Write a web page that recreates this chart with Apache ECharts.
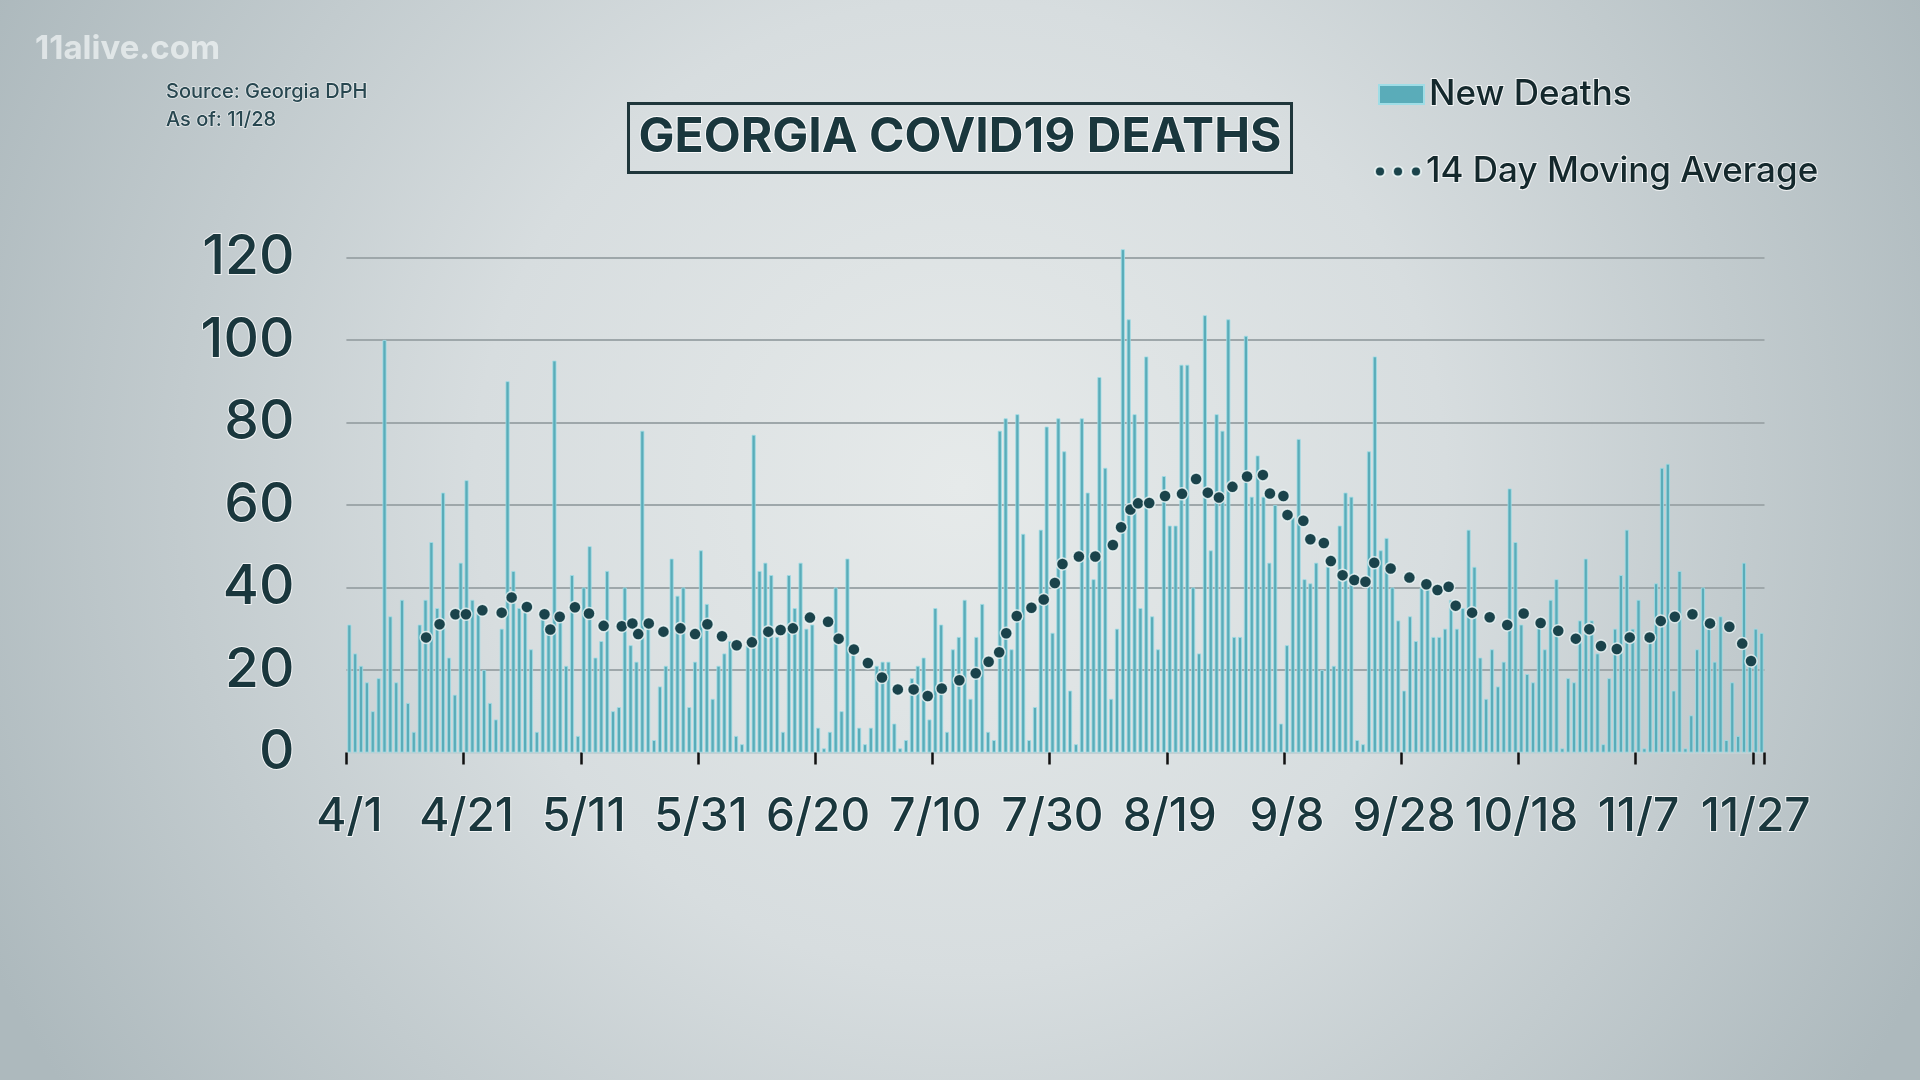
<!DOCTYPE html>
<html>
<head>
<meta charset="utf-8">
<script src="https://cdn.jsdelivr.net/npm/echarts@6/dist/echarts.min.js"></script>
<style>
html,body{margin:0;padding:0;width:1920px;height:1080px;overflow:hidden;background:#cfd6d8}
#chart{width:1920px;height:1080px}
</style>
</head>
<body>
<div id="chart"></div>
<script>
// ---- data ----
const firstDay = { year: 2020, month: 4, day: 1 };   // 4/1
const dayCount = 242;                                 // 4/1 .. 11/28
const xTickLabels = ['4/1','4/21','5/11','5/31','6/20','7/10','7/30','8/19','9/8','9/28','10/18','11/7','11/27'];
const yTicks = [0, 20, 40, 60, 80, 100, 120];

const newDeaths = [
  31,24,21,17,10,18,100,33,17,37,12,5,31,37,51,35,63,23,14,46,66,37,35,20,
  12,8,30,90,44,35,36,25,5,34,29,95,32,21,43,4,40,50,23,27,44,10,11,40,
  26,22,78,31,3,16,21,47,38,40,11,22,49,36,13,21,24,27,4,2,26,77,44,46,43,
  28,5,43,35,46,30,31,6,1,5,40,10,47,25,6,2,6,21,22,22,7,1,3,18,
  21,23,8,35,31,5,25,28,37,13,28,36,5,3,78,81,25,82,53,3,11,54,79,29,
  81,73,15,2,81,63,42,91,69,13,30,122,105,82,35,96,33,25,67,55,55,94,94,40,24,
  106,49,82,78,105,28,28,101,62,72,62,46,60,7,26,57,76,42,41,46,20,45,21,55,
  63,62,3,2,73,96,49,52,40,32,15,33,27,40,42,28,28,30,37,30,35,54,45,23,13,
  25,16,22,64,51,31,19,17,31,25,37,42,1,18,17,32,47,32,24,2,18,30,43,54,
  30,37,1,29,41,69,70,15,44,1,9,25,40,32,22,33,3,17,4,46,22,30,29
];

// dots of the dotted 14-day moving-average line (day index from 4/1, value)
const maDays = [
  13.1,15.4,18.1,19.9,22.7,26.0,27.7,30.3,33.3,34.3,35.9,38.5,40.9,43.4,46.5,48.3,49.3,51.1,53.6,56.5,
  59.0,61.1,63.6,66.1,68.7,71.5,73.6,75.7,78.6,81.7,83.5,86.1,88.5,90.9,93.6,96.3,98.7,101.1,104.1,106.9,
  109.1,110.9,112.1,113.9,116.4,118.5,120.4,121.7,124.5,127.3,130.3,131.7,133.3,134.6,136.5,139.2,142.1,144.5,146.5,148.4,
  150.7,153.2,155.9,157.1,159.4,160.1,162.8,164.0,166.3,167.5,169.5,171.5,173.4,174.9,177.7,180.9,183.8,185.7,187.6,188.8,
  191.6,194.6,197.6,200.4,203.3,206.3,209.3,211.6,213.6,216.3,218.5,221.9,223.8,226.2,229.2,232.2,235.5,237.7,239.2
];
const maValues = [
  27.9,31.1,33.5,33.5,34.5,33.9,37.6,35.3,33.5,29.8,32.9,35.2,33.7,30.7,30.6,31.3,28.7,31.3,29.3,30.1,
  28.7,31.1,28.2,26.0,26.7,29.3,29.7,30.1,32.7,31.7,27.6,25.0,21.7,18.2,15.3,15.3,13.7,15.5,17.5,19.2,
  22.0,24.3,28.9,33.1,35.1,37.1,41.1,45.7,47.5,47.5,50.3,54.6,58.9,60.4,60.5,62.2,62.7,66.3,63.0,61.8,
  64.4,66.9,67.3,62.8,62.2,57.6,56.2,51.7,50.8,46.4,43.0,41.8,41.4,46.0,44.6,42.4,40.8,39.4,40.2,35.6,
  33.9,32.8,30.9,33.7,31.4,29.5,27.6,29.9,25.8,25.1,27.9,27.9,31.9,32.9,33.5,31.3,30.5,26.4,22.2
];

// ---- build categories (M/D) ----
const categories = [];
for (let i = 0; i < dayCount; i++) {
  const d = new Date(Date.UTC(firstDay.year, firstDay.month - 1, firstDay.day + i));
  categories.push((d.getUTCMonth() + 1) + '/' + d.getUTCDate());
}
const maData = maDays.map((d, i) => [d, maValues[i]]);

const darkText = '#1a373d';
const halo = 'rgba(255,255,255,0.75)';
const font = 'Inter, "Noto Sans", sans-serif';

const chart = echarts.init(document.getElementById('chart'), null, { renderer: 'canvas' });
chart.setOption({
  animation: false,
  backgroundColor: {
    type: 'radial', x: 0.5, y: 0.45, r: 1.0,
    colorStops: [
      { offset: 0, color: '#e6eaea' },
      { offset: 0.45, color: '#d7dddf' },
      { offset: 1, color: '#adb9bd' }
    ]
  },
  textStyle: { fontFamily: font },
  title: [
    {
      text: 'GEORGIA COVID19 DEATHS',
      left: 'center', top: 103,
      padding: [9, 9],
      borderColor: '#1f363b', borderWidth: 3,
      textStyle: {
        fontFamily: font, fontWeight: 700, fontSize: 48, lineHeight: 52,
        color: darkText, textBorderColor: 'rgba(255,255,255,0.85)', textBorderWidth: 2
      }
    },
    {
      text: '11alive.com', left: 35, top: 33, padding: 0,
      textStyle: { fontFamily: font, fontWeight: 700, fontSize: 33, color: 'rgba(246,249,249,0.66)' }
    },
    {
      text: 'Source: Georgia DPH\nAs of: 11/28', left: 166, top: 78, padding: 0,
      textStyle: {
        fontFamily: font, fontWeight: 500, fontSize: 20, lineHeight: 28,
        color: '#284750', textBorderColor: 'rgba(255,255,255,0.6)', textBorderWidth: 1.5
      }
    }
  ],
  legend: [
    {
      data: ['New Deaths'], left: 1378, top: 76, padding: 0,
      itemWidth: 45, itemHeight: 19, icon: 'rect', selectedMode: false,
      textStyle: { fontFamily: font, fontSize: 35, fontWeight: 500, color: '#14282c',
        textBorderColor: halo, textBorderWidth: 2 }
    },
    {
      data: ['14 Day Moving Average'], left: 1374, top: 153, padding: 0,
      itemWidth: 46, itemHeight: 10, selectedMode: false,
      icon: 'path://M0,5a5,5 0 1,0 10,0a5,5 0 1,0 -10,0zM18,5a5,5 0 1,0 10,0a5,5 0 1,0 -10,0zM36,5a5,5 0 1,0 10,0a5,5 0 1,0 -10,0z',
      textStyle: { fontFamily: font, fontSize: 35, fontWeight: 500, color: '#14282c',
        textBorderColor: halo, textBorderWidth: 2 }
    }
  ],
  grid: { left: 346.4, right: 155.5, top: 257.5, bottom: 327.5, containLabel: false },
  xAxis: [
    {
      type: 'category', data: categories, boundaryGap: true,
      axisLine: { show: true, lineStyle: { color: '#c3d0d3', width: 2 } },
      axisTick: { show: true, interval: 19, length: 12, lineStyle: { color: '#111', width: 2.5 } },
      axisLabel: {
        interval: 19, margin: 42, fontFamily: font, fontSize: 46, fontWeight: 500,
        color: darkText, textBorderColor: halo, textBorderWidth: 2,
        formatter: v => (xTickLabels.indexOf(v) >= 0 ? v : '')
      },
      splitLine: { show: false }
    },
    { type: 'value', min: -0.5, max: dayCount - 0.5, show: false }
  ],
  yAxis: {
    type: 'value', min: yTicks[0], max: yTicks[yTicks.length - 1], interval: 20,
    axisLine: { show: false }, axisTick: { show: false },
    axisLabel: {
      margin: 52, fontFamily: font, fontSize: 55, fontWeight: 500,
      color: darkText, textBorderColor: halo, textBorderWidth: 2
    },
    splitLine: { show: true, lineStyle: { color: '#9ea7aa', width: 2 } }
  },
  series: [
    {
      name: 'New Deaths', type: 'bar', data: newDeaths, xAxisIndex: 0,
      barWidth: 4, clip: false,
      itemStyle: { color: '#5aacb9', borderColor: '#9fdde6', borderWidth: 0.8 },
      z: 2
    },
    {
      name: '14 Day Moving Average', type: 'scatter', data: maData, xAxisIndex: 1,
      symbol: 'circle', symbolSize: 12,
      itemStyle: { color: '#1a434b', borderColor: 'rgba(240,250,250,0.8)', borderWidth: 1.5, opacity: 1 },
      z: 4
    }
  ]
});
</script>
</body>
</html>
